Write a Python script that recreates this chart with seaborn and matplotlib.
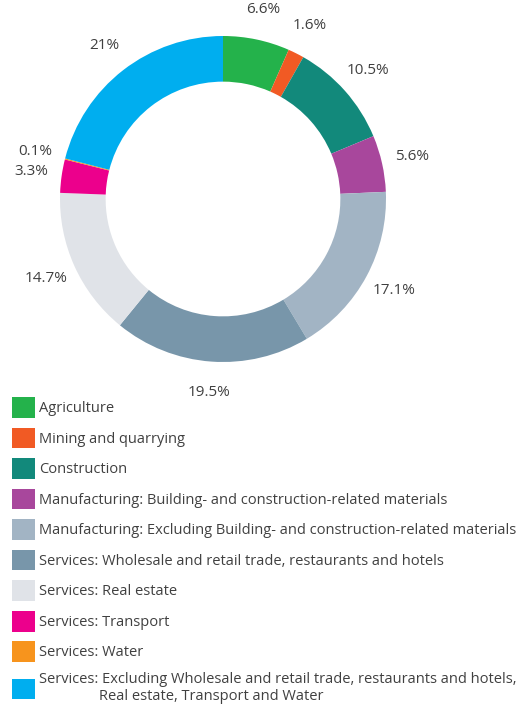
import matplotlib
matplotlib.use("Agg")
import matplotlib.pyplot as plt
from matplotlib.patches import Patch
import seaborn as sns
import numpy as np

sectors = [
    "Agriculture",
    "Mining and quarrying",
    "Construction",
    "Manufacturing: Building- and construction-related materials",
    "Manufacturing: Excluding Building- and construction-related materials",
    "Services: Wholesale and retail trade, restaurants and hotels",
    "Services: Real estate",
    "Services: Transport",
    "Services: Water",
    "Services: Excluding Wholesale and retail trade, restaurants and hotels,\n"
    "                Real estate, Transport and Water",
]
shares = [6.6, 1.6, 10.5, 5.6, 17.1, 19.5, 14.7, 3.3, 0.1, 21]
share_labels = ["6.6%", "1.6%", "10.5%", "5.6%", "17.1%", "19.5%", "14.7%", "3.3%", "0.1%", "21%"]
colors = ["#24B24B", "#F15A24", "#12897B", "#A8479C", "#A2B4C4",
          "#7896AA", "#E0E3E8", "#EC008C", "#F7941D", "#00AEEF"]

sns.set_theme(style="white")
plt.rcParams["font.family"] = ["Open Sans", "DejaVu Sans"]
txt_color = "#404040"

W, H = 517, 722
fig = plt.figure(figsize=(W / 100, H / 100), dpi=100)
# pie box: center (223,199) radius 163 px
cx, cy, r = 223, 199, 163
ax = fig.add_axes([(cx - r) / W, (H - cy - r) / H, 2 * r / W, 2 * r / H])

wedges, _ = ax.pie(shares, colors=colors, startangle=90, counterclock=False,
                   wedgeprops=dict(width=0.28, linewidth=0))
ax.set_xlim(-1, 1)
ax.set_ylim(-1, 1)
ax.set_aspect("equal")
ax.axis("off")

# percentage labels around the ring
cum = np.cumsum([0] + shares[:-1])
for start, val, lab in zip(cum, shares, share_labels):
    ang = np.deg2rad(90 - (start + val / 2) * 3.6)
    ax.text(1.19 * np.cos(ang), 1.19 * np.sin(ang), lab, ha="center", va="center",
            fontsize=11, color=txt_color)

handles = [Patch(facecolor=c, edgecolor="none") for c in colors]
leg = fig.legend(handles, sectors, loc="upper left", bbox_to_anchor=(12 / W, 1 - 397 / H),
                 frameon=False, fontsize=10.5, handlelength=1.6, handleheight=1.8,
                 handletextpad=0.28, labelspacing=0.68, borderpad=0, borderaxespad=0,
                 labelcolor=txt_color)

fig.savefig("out.png", dpi=100)
